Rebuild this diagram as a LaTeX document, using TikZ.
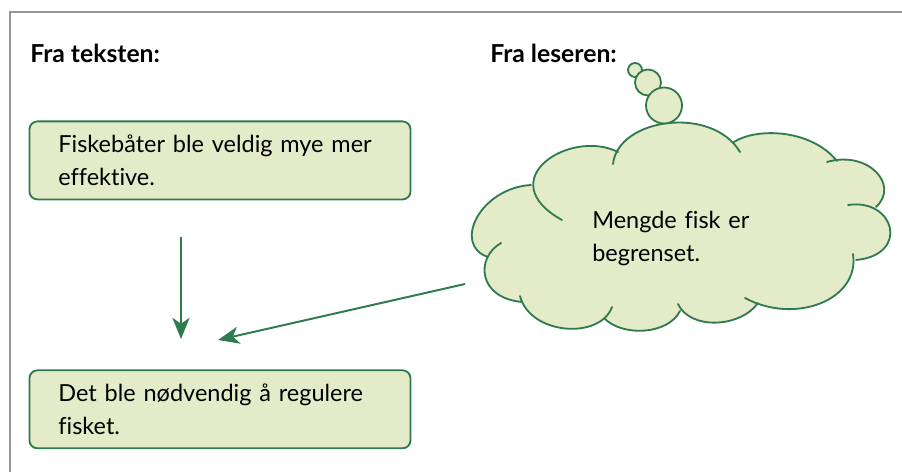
\documentclass[tikz,border=0pt]{standalone}
\usepackage{fontspec}
\setmainfont{Lato}[Ligatures=NoCommon]
\usetikzlibrary{arrows.meta, positioning}
\definecolor{leafgreen}{RGB}{47,122,79}
\definecolor{palegreen}{RGB}{228,235,201}
\definecolor{framegray}{RGB}{150,150,150}

\begin{document}
\begin{tikzpicture}[
    x=0.025cm, y=-0.025cm,
    every node/.style={font=\fontsize{16.7pt}{23.4pt}\selectfont},
    heading/.style={anchor=base west, inner sep=0pt, font=\fontsize{17.6pt}{23.4pt}\selectfont\bfseries},
    box/.style={rectangle, draw=leafgreen, fill=palegreen, line width=1.3pt, rounded corners=0.2cm, minimum width=9.525cm, minimum height=1.95cm, text width=8.075cm, inner xsep=0.725cm, align=left},
    bubble/.style={draw=leafgreen, fill=palegreen, line width=1.3pt},
    link/.style={-{Stealth[length=0.53cm, width=0.43cm, inset=0.15cm]}, line width=1.4pt, leafgreen}
  ]
  \useasboundingbox (0,0) rectangle (902,472);
  % frame
  \draw[framegray, line width=1.2pt] (10,472) -- (10,12) -- (902,12);

  \node[heading] (fromtext) at (30,63) {Fra teksten:};
  \node[heading] (fromreader) at (490,63) {Fra leseren:};

  \node[box, anchor=north west] (boats) at (28.5,120.5) {Fiskebåter ble veldig mye mer\\effektive.};
  \node[box, below=4.225cm of boats] (rule) {Det ble nødvendig å regulere\\fisket.};

  % thought cloud
  \fill[palegreen]
    (613,164) .. controls (618,118) and (712,105) .. (740,152)
    -- (734,142) .. controls (755,128) and (810,128) .. (837,161)
    -- (827,162) .. controls (868,150) and (900,185) .. (876,207)
    -- (848,205) .. controls (895,198) and (910,255) .. (856,260)
    -- (853,254) .. controls (860,300) and (795,325) .. (745,298)
    -- (758,303) .. controls (740,328) and (690,330) .. (678,304)
    -- (680,311) .. controls (668,335) and (622,337) .. (604,318)
    -- (612,307) .. controls (600,340) and (530,335) .. (520,296)
    -- (522,302) .. controls (478,298) and (475,258) .. (501,243)
    -- (488,257) .. controls (452,245) and (480,188) .. (531,185)
    -- (562,220) .. controls (490,180) and (570,128) .. (618,152)
    -- cycle;
  \draw[leafgreen, line width=1.3pt, line cap=round]
    (613,164) .. controls (618,118) and (712,105) .. (740,152)
    (734,142) .. controls (755,128) and (810,128) .. (837,161)
    (827,162) .. controls (868,150) and (900,185) .. (876,207)
    (848,205) .. controls (895,198) and (910,255) .. (856,260)
    (853,254) .. controls (860,300) and (795,325) .. (745,298)
    (758,303) .. controls (740,328) and (690,330) .. (678,304)
    (680,311) .. controls (668,335) and (622,337) .. (604,318)
    (612,307) .. controls (600,340) and (530,335) .. (520,296)
    (522,302) .. controls (478,298) and (475,258) .. (501,243)
    (488,257) .. controls (452,245) and (480,188) .. (531,185)
    (562,220) .. controls (490,180) and (570,128) .. (618,152);
  \draw[bubble] (635,70) circle[radius=0.175cm];
  \draw[bubble] (648,82.5) circle[radius=0.325cm];
  \draw[bubble] (664,105.5) circle[radius=0.45cm];

  \node[anchor=base west, text width=5cm, align=left, inner sep=0pt] (thought) at (592,229) {Mengde fisk er\\begrenset.};

  \coordinate (fromabove) at (181,237);
  \coordinate (landing) at (181,339);
  \coordinate (fromcloud) at (465,284);
  \coordinate (landingside) at (218,340);
  \draw[link] (fromabove) -- (landing);
  \draw[link] (fromcloud) -- (landingside);
\end{tikzpicture}
\end{document}
